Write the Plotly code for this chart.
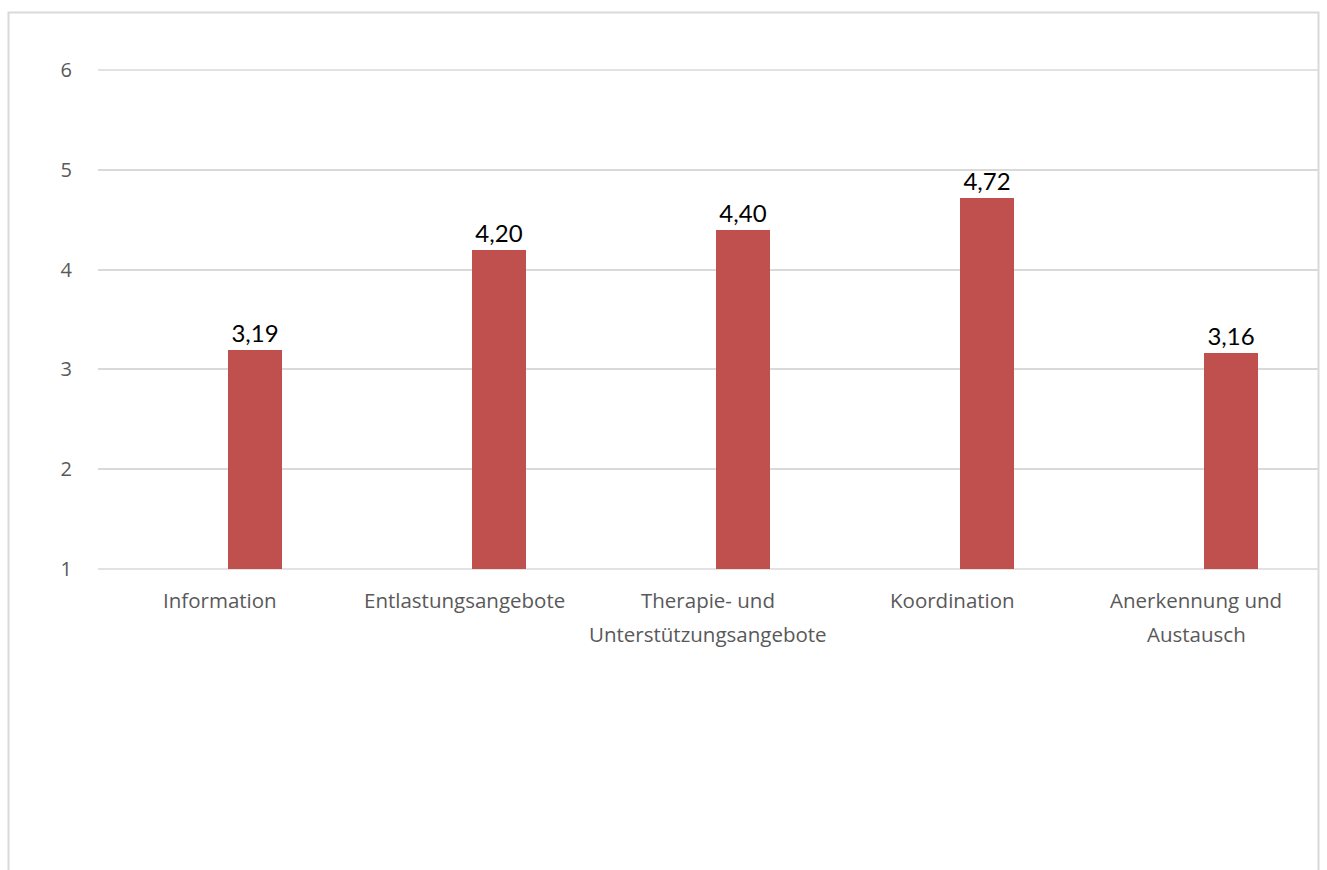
import plotly.graph_objects as go

# Chart data
categories = [
    "Information",
    "Entlastungsangebote",
    "Therapie- und<br>Unterstützungsangebote",
    "Koordination",
    "Anerkennung und<br>Austausch",
]
values = [3.19, 4.20, 4.40, 4.72, 3.16]
y_ticks = [1, 2, 3, 4, 5, 6]

positions = list(range(len(categories)))
labels = [f"{v:.2f}".replace(".", ",") for v in values]

BAR_COLOR = "#C0504D"
GRID_COLOR = "#D9D9D9"
TEXT_GRAY = "#595959"
LABEL_FONT = dict(family="Open Sans", size=20.5, color=TEXT_GRAY)

fig = go.Figure()
fig.add_trace(
    go.Bar(
        x=positions,
        y=[v - 1 for v in values],
        base=1,
        width=0.225,
        offset=0.031,
        marker=dict(color=BAR_COLOR, line=dict(width=0)),
        text=labels,
        textposition="outside",
        cliponaxis=False,
        textfont=dict(family="Lato", size=24, color="#000000"),
        hoverinfo="skip",
    )
)

fig.update_layout(
    width=1327,
    height=870,
    paper_bgcolor="#FFFFFF",
    plot_bgcolor="#FFFFFF",
    margin=dict(l=98, r=9, t=70, b=301),
    showlegend=False,
    bargap=0,
    xaxis=dict(
        range=[-0.5, 4.5],
        tickmode="array",
        tickvals=positions,
        showticklabels=False,
        showgrid=False,
        zeroline=False,
        showline=False,
        ticks="",
        fixedrange=True,
    ),
    yaxis=dict(
        range=[1, 6],
        tickmode="array",
        tickvals=y_ticks,
        ticktext=[str(t) for t in y_ticks],
        showgrid=True,
        gridcolor=GRID_COLOR,
        gridwidth=1.5,
        zeroline=False,
        showline=False,
        ticks="",
        ticklabelstandoff=25,
        tickfont=dict(family="Open Sans", size=20, color=TEXT_GRAY),
        fixedrange=True,
    ),
)

# Category labels, one line per annotation so the line spacing can be set
LINE_GAP = 34
for pos, cat in zip(positions, categories):
    for i, line in enumerate(cat.split("<br>")):
        fig.add_annotation(
            x=pos, xref="x", y=0, yref="paper",
            text=line, showarrow=False,
            xanchor="center", yanchor="middle",
            yshift=-31 - i * LINE_GAP,
            font=LABEL_FONT,
        )

# Gridlines along the bottom and top edges of the plot area
for yv in (0, 1):
    fig.add_shape(
        type="line", xref="paper", yref="paper", x0=0, x1=1, y0=yv, y1=yv,
        line=dict(color=GRID_COLOR, width=1.5), layer="below",
    )

# Outer chart border
plot_w = 1327 - 98 - 9
plot_h = 870 - 70 - 301
fig.add_shape(
    type="rect", xref="paper", yref="paper",
    x0=(8.5 - 98) / plot_w, x1=(1318.5 - 98) / plot_w,
    y0=-400 / plot_h, y1=(870 - 301 - 12.5) / plot_h,
    line=dict(color=GRID_COLOR, width=2), fillcolor="rgba(0,0,0,0)",
    layer="below",
)

fig.write_html("out.html")
